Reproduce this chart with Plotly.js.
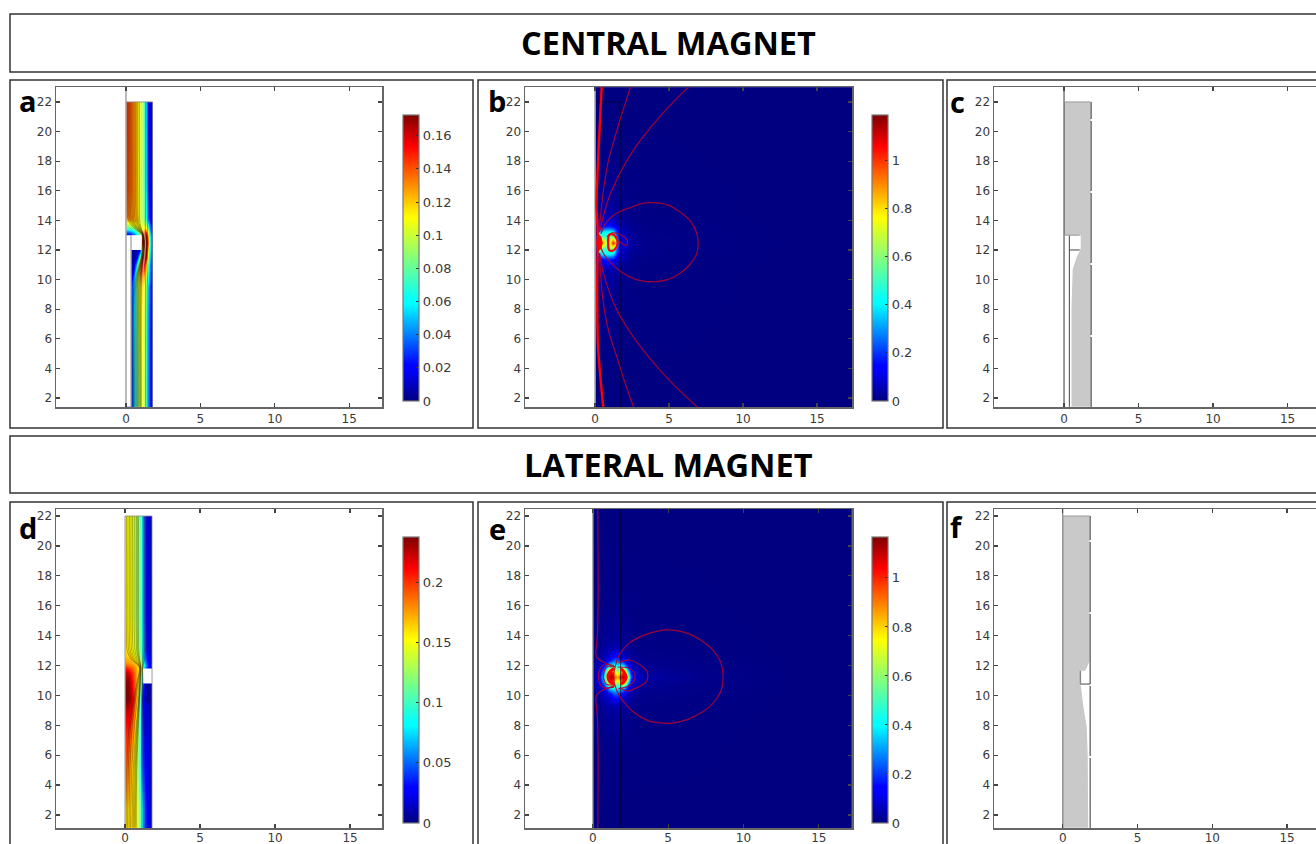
<!DOCTYPE html>
<html><head><meta charset="utf-8">
<script src="https://cdn.plot.ly/plotly-3.0.1.min.js"></script>
<style>html,body{margin:0;padding:0;background:#fff;overflow:hidden;width:1316px;height:844px}#chart{width:1340px;height:900px}</style>
</head><body><div id="chart"></div>
<script>
// ---------- data ----------
const titles = ['CENTRAL MAGNET','LATERAL MAGNET'];
const letters = ['a','b','c','d','e','f'];
const xTicks = [0,5,10,15];
const yTicks = [2,4,6,8,10,12,14,16,18,20,22];

// panel a : colour field
const aX = [0,.17,.34,.5,.7,.9,1.05,1.2,1.35,1.5,1.65,1.78];
const aY = [1.4,9,10,10.5,11,11.5,12,12.5,13,13.3,13.6,14,14.5,22];
const aZ = [
 [.01,.01,.02,.045,.08,.1,.106,.098,.075,.045,.02,.01],
 [.01,.01,.02,.05,.085,.105,.11,.1,.078,.048,.022,.01],
 [.005,.005,.012,.04,.09,.118,.125,.115,.09,.06,.028,.012],
 [.004,.004,.006,.022,.08,.13,.145,.135,.105,.07,.032,.014],
 [.004,.004,.004,.01,.05,.125,.16,.155,.12,.075,.035,.015],
 [.004,.004,.004,.004,.012,.07,.15,.172,.16,.1,.04,.015],
 [.004,.004,.004,.004,.006,.016,.1,.165,.172,.12,.045,.015],
 [.004,.004,.004,.004,.006,.016,.15,.172,.172,.14,.05,.018],
 [.015,.015,.018,.026,.045,.08,.13,.165,.17,.125,.045,.016],
 [.045,.045,.05,.06,.08,.1,.12,.135,.135,.095,.035,.014],
 [.09,.09,.095,.1,.11,.11,.105,.105,.1,.065,.028,.012],
 [.125,.125,.125,.125,.12,.105,.095,.088,.07,.04,.018,.01],
 [.14,.14,.135,.13,.118,.10,.09,.078,.055,.028,.014,.008],
 [.145,.142,.136,.13,.118,.105,.092,.075,.052,.022,.012,.008]];
// panel a : streamlines, x position of each line at the heights aLineY
const aLineY = [22,15,14.3,13.8,13.4,13.05,12.5,12,11.5,11,10.4,9.5,8.5,1.4];
const aLines = [
 [.08,.08,.1,.26,.62,1.06,1.1,1.08,1.02,.88,.7,.54,.47,.44],
 [.15,.15,.18,.35,.7,1.08,1.12,1.1,1.04,.92,.75,.6,.52,.5],
 [.22,.22,.25,.41,.75,1.09,1.14,1.12,1.06,.94,.79,.65,.6,.58],
 [.3,.3,.33,.48,.8,1.1,1.15,1.13,1.07,.95,.82,.7,.66,.65],
 [.39,.39,.42,.54,.84,1.11,1.17,1.15,1.09,.98,.85,.75,.72,.71],
 [.47,.47,.5,.6,.88,1.12,1.18,1.16,1.1,1.0,.88,.8,.78,.77],
 [.56,.56,.59,.68,.92,1.14,1.2,1.18,1.12,1.03,.92,.85,.83,.82],
 [.65,.65,.68,.75,.95,1.15,1.21,1.19,1.14,1.05,.96,.9,.88,.87],
 [.73,.73,.75,.82,.99,1.17,1.23,1.21,1.16,1.08,1.0,.95,.93,.93],
 [.8,.8,.82,.88,1.02,1.18,1.25,1.23,1.18,1.1,1.03,1,.98,.98],
 [.9,.9,.91,.95,1.06,1.2,1.27,1.25,1.2,1.13,1.07,1.05,1.04,1.04],
 [1,1,1,1.02,1.1,1.22,1.29,1.27,1.22,1.15,1.11,1.09,1.09,1.09],
 [1.1,1.1,1.09,1.1,1.15,1.25,1.31,1.29,1.25,1.18,1.16,1.15,1.15,1.15],
 [1.19,1.19,1.18,1.17,1.2,1.28,1.33,1.31,1.27,1.21,1.2,1.21,1.22,1.22],
 [1.32,1.32,1.31,1.3,1.31,1.34,1.38,1.36,1.33,1.29,1.3,1.32,1.32,1.32],
 [1.48,1.48,1.47,1.46,1.45,1.44,1.45,1.44,1.42,1.41,1.43,1.47,1.47,1.47]];
const aBlankX = [0,.34,.34,0,0];
const aBlankY = [1.4,1.4,13,13,1.4];
const aMagX = [.34,1.05,1.05,.34,.34];
const aMagY = [12,12,13,13,12];

// panel d : colour field
const dX = [0,.2,.4,.6,.8,1,1.15,1.3,1.5,1.8];
const dY = [1.15,6,8,10,11,11.7,12,12.5,13.5,22];
const dZ = [
 [.16,.16,.16,.155,.14,.11,.08,.045,.022,.008],
 [.19,.185,.165,.15,.125,.08,.05,.032,.018,.008],
 [.21,.21,.195,.17,.13,.08,.045,.025,.015,.008],
 [.238,.238,.225,.195,.15,.08,.04,.018,.01,.006],
 [.235,.235,.215,.19,.16,.12,.07,.02,.01,.006],
 [.22,.215,.2,.185,.165,.14,.12,.055,.025,.008],
 [.19,.185,.18,.175,.16,.145,.12,.075,.032,.01],
 [.165,.165,.16,.15,.135,.12,.09,.052,.024,.009],
 [.155,.15,.145,.135,.125,.105,.078,.042,.018,.008],
 [.155,.15,.145,.135,.125,.105,.078,.042,.018,.008]];
const dLineY = [22,14,13,12.4,11.9,11,10,8,5,1.15];
const dLines = [
 [.1,.1,.14,.42,.95,.82,.62,.28,.12,.08],
 [.2,.2,.25,.5,.97,.86,.68,.37,.22,.17],
 [.3,.3,.35,.58,.98,.9,.75,.48,.33,.27],
 [.4,.4,.45,.66,1.0,.94,.85,.63,.45,.36],
 [.5,.5,.55,.75,1.02,.98,.92,.75,.55,.47],
 [.62,.62,.67,.82,1.04,1.0,.94,.79,.62,.55],
 [.75,.75,.78,.9,1.06,1.02,.96,.82,.68,.62],
 [.82,.82,.85,.94,1.08,1.04,.98,.86,.73,.69],
 [.9,.9,.92,.98,1.09,1.05,1.0,.9,.78,.75],
 [1.0,1.0,1.0,1.05,1.11,1.08,1.04,.98,.92,.9],
 [1.1,1.1,1.1,1.1,1.13,1.11,1.08,1.05,1.02,1.0],
 [1.2,1.2,1.19,1.16,1.15,1.14,1.12,1.12,1.13,1.13],
 [1.32,1.32,1.3,1.22,1.17,1.17,1.16,1.2,1.24,1.25],
 [1.45,1.45,1.42,1.3,1.19,1.2,1.2,1.3,1.36,1.38]];
const dMagX = [1.2,1.8,1.8,1.2,1.2];
const dMagY = [10.8,10.8,11.8,11.8,10.8];
const dLoopX = [1.45,1.55,1.5,1.42,1.38,1.45];
const dLoopY = [10.7,10.1,9.5,9.6,10.2,10.7];

// panel b : colour field
const bX = [0,.1,.3,.5,.8,1,1.2,1.35,1.5,1.8,2.2,2.8,4,17.4];
const bY = [1.4,10,11,11.4,11.8,12,12.5,13,13.2,13.6,14,15,23];
const bZ = [
 [.003,.003,.003,.003,.003,.003,.003,.003,.002,.002,.002,.002,.002,.001],
 [.012,.012,.012,.012,.012,.012,.012,.01,.01,.008,.006,.005,.003,.001],
 [.04,.05,.06,.07,.07,.07,.06,.05,.04,.025,.015,.008,.004,.001],
 [.07,.09,.12,.16,.18,.18,.15,.11,.08,.05,.025,.012,.005,.001],
 [.1,.18,.35,.4,.42,.42,.4,.27,.16,.07,.03,.014,.006,.001],
 [.12,.28,.6,.5,.5,.55,.62,.38,.2,.09,.04,.016,.006,.001],
 [.2,.4,1.1,.85,.65,.72,1.05,.9,.27,.1,.05,.02,.007,.001],
 [.12,.28,.6,.5,.5,.55,.62,.38,.2,.09,.04,.016,.006,.001],
 [.1,.18,.35,.4,.42,.42,.4,.27,.16,.07,.03,.014,.006,.001],
 [.07,.09,.12,.16,.18,.18,.15,.11,.08,.05,.025,.012,.005,.001],
 [.04,.05,.06,.07,.07,.07,.06,.05,.04,.025,.015,.008,.004,.001],
 [.012,.012,.012,.012,.012,.012,.012,.01,.01,.008,.006,.005,.003,.001],
 [.003,.003,.003,.003,.003,.003,.003,.003,.002,.002,.002,.002,.002,.001]];
// panel b : red contour lines
const bLoopX = [.4,.7,1.2,1.8,2.5,3.2,3.9,4.9,5.7,6.4,6.85,6.97,6.85,6.4,5.7,4.9,3.9,2.8,1.8,1,.5,.35];
const bLoopY = [13.1,13.8,14.3,14.65,14.9,15.15,15.2,15.05,14.6,14,13.2,12.5,11.7,11,10.4,10,9.85,10,10.5,11.2,11.9,12.4];
const bLobeX = [.8,1.2,1.8,2.15,2.2,2.1,1.6];
const bLobeY = [12.9,13.15,13,12.7,12.45,12.3,12.6];
const bUp1X = [2.4,1.6,.9,.5,.3];
const bUp1Y = [23,20.5,18,15.5,13.5];
const bUp2X = [6.3,5.2,4.2,3.3,2.6,1.9,1.4,1,.7,.3];
const bUp2Y = [23,21.9,20.8,19.7,18.75,17.6,16.6,15.7,14.8,13.2];
const bDown1X = [.3,.42,.62,.95,1.4,2,2.6];
const bDown1Y = [11.8,9.8,8,6.4,5,3.1,1.4];
const bDown2X = [.3,.55,.95,1.5,2.2,3.2,4.2,5.4,6.9];
const bDown2Y = [11.8,10.5,9.2,7.9,6.7,5.3,4.1,2.8,1.4];
const bAxisLineX = [.45,.3,.18,.1,.15,.18,.15,.15,.2,.55];
const bAxisLineY = [23,20,17.5,15,14,13,10,8,5.5,1.4];
const bLensX = [.2,.4,.48,.4,.2,.12,.2];
const bLensY = [13.1,12.9,12.5,12.1,11.9,12.5,13.1];
const bRingX = [.95,1.2,1.45,1.52,1.45,1.2,.95,.95];
const bRingY = [13,13.05,12.8,12.5,12.2,11.95,12,13];
const bGeoX = [0,1.74,1.74];
const bGeoY = [22,22,1.4];

// panel e : colour field
const eX = [0,.4,.8,1.05,1.2,1.4,1.6,1.8,2,2.2,2.5,3,4,17.3];
const eY = [1.13,8,9.5,10.2,10.65,10.85,11.25,11.65,11.85,12.3,13,14.5,22.5];
const eZ = [
 [.003,.003,.003,.003,.003,.003,.003,.003,.002,.002,.002,.002,.002,.001],
 [.006,.007,.008,.01,.01,.01,.01,.008,.007,.006,.005,.004,.003,.001],
 [.012,.02,.03,.04,.045,.05,.045,.04,.03,.025,.018,.01,.005,.001],
 [.02,.04,.08,.13,.18,.24,.24,.18,.12,.08,.04,.02,.008,.001],
 [.03,.07,.18,.42,.52,.5,.45,.5,.45,.25,.08,.03,.01,.001],
 [.04,.09,.32,.9,1.05,.75,.6,.8,1,.65,.13,.04,.012,.001],
 [.05,.11,.42,1.1,1.15,.95,.85,1,1.15,1.1,.2,.06,.015,.001],
 [.04,.09,.32,.9,1.05,.75,.6,.8,1,.65,.13,.04,.012,.001],
 [.03,.07,.18,.42,.52,.5,.45,.5,.45,.25,.08,.03,.01,.001],
 [.02,.04,.08,.13,.18,.24,.24,.18,.12,.08,.04,.02,.008,.001],
 [.012,.02,.03,.04,.045,.05,.045,.04,.03,.025,.018,.01,.005,.001],
 [.006,.007,.008,.01,.01,.01,.01,.008,.007,.006,.005,.004,.003,.001],
 [.003,.003,.003,.003,.003,.003,.003,.003,.002,.002,.002,.002,.002,.001]];
const eLoopX = [1.38,1.7,2.3,3,3.9,4.67,5.3,6.3,7.3,8,8.5,8.65,8.5,8,7.3,6.3,5.3,4.67,3.7,2.8,2.1,1.6,1.38];
const eLoopY = [11.25,12.6,13.4,13.85,14.2,14.37,14.37,14.15,13.6,13,12.2,11.25,10.3,9.5,8.9,8.4,8.15,8.15,8.3,8.8,9.5,10.3,11.25];
const eLobe1X = [1.7,2.47,3.33,3.6,3.65,3.55,2.33,1.8];
const eLobe1Y = [12.2,12.37,11.9,11.6,11.25,10.9,10.3,10.5];
const eLobe2X = [1.65,2.3,2.7,2.8,2.7,2.3,1.7];
const eLobe2Y = [11.9,11.85,11.6,11.25,10.9,10.6,10.45];
const eLeft1X = [.33,.35,.3,.2,.3,.67,1.47];
const eLeft1Y = [22.5,16.4,14,12.8,12.5,12.25,11.9];
const eLeft2X = [.33,.35,.3,.2,.3,.67,1.47];
const eLeft2Y = [1.13,6,8.6,9.8,10.1,10.35,10.65];
const eLeft3X = [1.4,.75,.43,.37,.5,.8,1.4];
const eLeft3Y = [12,12.05,11.7,11.2,10.7,10.5,10.55];
const eLeft4X = [1.4,.9,.7,.9,1.4];
const eLeft4Y = [11.9,11.9,11.25,10.75,10.7];
const eRingLX = [1.4,1.15,1,1.15,1.4];
const eRingLY = [11.8,11.6,11.25,10.9,10.75];
const eRingRX = [1.85,2.05,2.2,2.05,1.85];
const eRingRY = [11.8,11.6,11.25,10.9,10.75];
const eGeoX = [1.85,1.85];
const eGeoY = [1.13,22.5];

// panel c, f : material outlines
const cFillX = [0,1.79,1.79,.5,.5,.58,.85,1.12,1.12,0,0];
const cFillY = [22,22,1.4,1.4,8,10.7,11.5,12.1,13,13,22];
const cWallX = [.36,.36];
const cWallY = [1.4,13];
const cTopX = [0,1.05];
const cTopY = [13,13];
const cMagX = [.36,1.05];
const cMagY = [12,12];
const fFillX = [0,1.8,1.8,1.58,1.5,1.18,1.18,1.2,1.38,1.6,1.67,1.7,0,0];
const fFillY = [22,22,12.3,11.85,11.65,11.65,10.8,10.7,9.24,7.9,5.9,1.15,1.15,22];
const fMagX = [1.18,1.83];
const fMagY = [10.76,10.76];

// ---------- styling ----------
const W = 1340, H = 900;
const fx = p => p / W, fy = p => 1 - p / H;
const jet = [[0,'#00007f'],[.11,'#0000ff'],[.125,'#0000ff'],[.34,'#00ffff'],[.35,'#00ffff'],[.64,'#ffff00'],[.66,'#ffee00'],[.89,'#ff0000'],[.91,'#e80000'],[1,'#7f0000']];
const edges = c => { const e=[c[0]]; for(let i=1;i<c.length;i++) e.push((c[i-1]+c[i])/2); e.push(c[c.length-1]); return e; };

const panels = [
 {xr:[-4.7,17.2], yr:[1.39,23.01], px:[56,382],  py:[87,407]},
 {xr:[-4.73,17.36],yr:[1.39,23.01], px:[525,852], py:[87,407]},
 {xr:[-4.7,17.18], yr:[1.39,23.01], px:[994,1320],py:[87,407]},
 {xr:[-4.6,17.13], yr:[1.13,22.47], px:[56,382],  py:[509,828]},
 {xr:[-4.5,17.2],  yr:[1.13,22.47], px:[525,852], py:[509,828]},
 {xr:[-4.6,17.2],  yr:[1.13,22.47], px:[994,1320],py:[509,828]}
];
const layout = {width:W,height:H,margin:{l:0,r:0,t:0,b:0},paper_bgcolor:'#fff',plot_bgcolor:'#fff',showlegend:false,shapes:[],annotations:[]};
panels.forEach((p,i)=>{
  const n = i+1, common = {showgrid:false,zeroline:false,ticks:'inside',ticklen:4,tickwidth:1.2,tickcolor:'#444',
    mirror:'ticks',showline:true,linecolor:'#666',linewidth:1.5,fixedrange:true,layer:'above traces',
    tickfont:{family:'DejaVu Sans',size:12,color:'#3a3a3a'}};
  layout['xaxis'+n] = Object.assign({},common,{domain:[fx(p.px[0]),fx(p.px[1])],range:p.xr,anchor:'y'+n,tickmode:'array',tickvals:xTicks,ticklabelstandoff:n>3?-2:0});
  layout['yaxis'+n] = Object.assign({},common,{domain:[fy(p.py[1]),fy(p.py[0])],range:p.yr,anchor:'x'+n,tickmode:'array',tickvals:yTicks});
});
const box = (x0,y0,x1,y1)=>({type:'rect',xref:'paper',yref:'paper',x0:fx(x0),x1:fx(x1),y0:fy(y0),y1:fy(y1),line:{color:'#333',width:1.5},fillcolor:'rgba(0,0,0,0)',layer:'below'});
layout.shapes.push(box(10,14,1335,72),box(10,80,473,428),box(478,80,943,428),box(947,80,1335,428),
  box(10,436,1335,493),box(10,502,473,895),box(478,502,943,895),box(947,502,1335,895));
const ann = (t,x,y,s)=>({text:t,xref:'paper',yref:'paper',x:fx(x),y:fy(y),xanchor:'center',yanchor:'middle',showarrow:false,font:{family:'Open Sans',size:s,color:'#000',weight:700}});
layout.annotations.push(ann(titles[0],668.5,42.5,32.5),ann(titles[1],668.5,464.5,32.5));
[[28,100],[497,100],[957,102],[28,527],[497,528],[956,526]].forEach((q,i)=>layout.annotations.push(ann(letters[i],q[0],q[1],29)));

const traces = [];
const heat = (n,x,y,z,zmax,dtick,bx,by)=>traces.push({type:'heatmap',xaxis:'x'+n,yaxis:'y'+n,x:edges(x),y:edges(y),z:z,zmin:0,zmax:zmax,zsmooth:'best',
  colorscale:jet,hoverinfo:'skip',colorbar:{x:fx(bx),xanchor:'left',xref:'paper',y:fy(by),yanchor:'top',yref:'paper',xpad:0,ypad:0,thickness:16,thicknessmode:'pixels',
  len:286,lenmode:'pixels',outlinecolor:'#777',outlinewidth:1.2,tick0:0,dtick:dtick,ticks:'inside',ticklen:3,tickcolor:'#333',tickfont:{family:'DejaVu Sans',size:13,color:'#3a3a3a'}}});
const line = (n,x,y,color,width,opts)=>traces.push(Object.assign({type:'scatter',mode:'lines',xaxis:'x'+n,yaxis:'y'+n,x:x,y:y,hoverinfo:'skip',line:{color:color,width:width}},opts||{}));
const fill = (n,x,y,color,lc,lw)=>traces.push({type:'scatter',mode:'lines',xaxis:'x'+n,yaxis:'y'+n,x:x,y:y,fill:'toself',fillcolor:color,hoverinfo:'skip',line:{color:lc||color,width:lw===undefined?0:lw}});
const spl = (n,x,y,color,width)=>traces.push({type:'scatter',mode:'lines',xaxis:'x'+n,yaxis:'y'+n,x:x,y:y,hoverinfo:'skip',line:{color:color,width:width,shape:'spline',smoothing:.8}});

const gray = '#aaaaaa', stream = 'rgba(40,20,0,.36)', lightStream='rgba(255,255,210,.35)', red='rgba(175,0,45,.9)';
// a
heat(1,aX,aY,aZ,.1725,.02,403,115);
fill(1,aBlankX,aBlankY,'#fff');
fill(1,aMagX,aMagY,'#fff');
aLines.forEach((l,i)=>spl(1,l,aLineY,(i>=11&&i<=13)?lightStream:stream,.9));
line(1,[0,0],[1.39,23.01],gray,1.6);
line(1,[.34,.34],[1.4,13],gray,1.4);
line(1,[0,1.78,1.78],[22,22,1.4],'#888',.8);
// b
heat(2,bX,bY,bZ,1.19,.2,872,115);
line(2,bGeoX,bGeoY,'rgba(0,0,40,.7)',1);
line(2,[0,0],[1.39,23.01],gray,1.6);
spl(2,bLoopX,bLoopY,red,1.2);
spl(2,bLobeX,bLobeY,red,1.2);
spl(2,bUp1X,bUp1Y,red,1.2);
spl(2,bUp2X,bUp2Y,red,1.2);
spl(2,bDown1X,bDown1Y,red,1.2);
spl(2,bDown2X,bDown2Y,red,1.2);
spl(2,bAxisLineX,bAxisLineY,'#f00',2.4);
fill(2,bLensX,bLensY,'#f00','#f00',1);
spl(2,bRingX,bRingY,'#f00',2.2);
// c
fill(3,cFillX,cFillY,'#c9c9c9');
line(3,[0,0],[1.39,23.01],'#555',1.2);
line(3,[1.82,1.82],[1.39,22],'#555',1.2,{line:{color:'#555',width:1.2,dash:'70px,2px'}});
line(3,cWallX,cWallY,'#555',1.1);
line(3,cTopX,cTopY,'#999',1);
line(3,cMagX,cMagY,'#555',1.1);
line(3,[0,1.79],[22,22],'#999',1);
// d
heat(4,dX,dY,dZ,.238,.05,403,537);
fill(4,dMagX,dMagY,'#fff');
dLines.forEach((l,i)=>spl(4,l,dLineY,(i==9||i==10)?lightStream:stream,.9));
spl(4,dLoopX,dLoopY,'rgba(0,0,60,.7)',1);
line(4,[0,0],[1.13,22],gray,1.2);
line(4,[0,1.8,1.8],[22,22,1.13],'#888',.8);
// e
heat(5,eX,eY,eZ,1.167,.2,872,537);
line(5,eGeoX,eGeoY,'rgba(0,0,40,.75)',1);
line(5,[0,0],[1.13,22.47],gray,1.4);
spl(5,eLoopX,eLoopY,red,1.2);
spl(5,eLobe1X,eLobe1Y,red,1.2);
spl(5,eLobe2X,eLobe2Y,red,1.2);
spl(5,eLeft1X,eLeft1Y,red,1.2);
spl(5,eLeft2X,eLeft2Y,red,1.2);
spl(5,eLeft3X,eLeft3Y,red,1.2);
spl(5,eLeft4X,eLeft4Y,red,1.2);
spl(5,eRingLX,eRingLY,'#f00',3);
spl(5,eRingRX,eRingRY,'#f00',3);
// f
fill(6,fFillX,fFillY,'#c9c9c9');
line(6,[1.83,1.83],[1.13,22],'#555',1.2,{line:{color:'#555',width:1.2,dash:'70px,2px'}});
line(6,[0,0],[1.13,22.47],'#777',1.1);
line(6,fMagX,fMagY,'#555',1.1);
line(6,[1.18,1.18],[10.76,11.65],'#888',1.4);
line(6,[0,1.8],[22,22],'#999',1);

Plotly.newPlot('chart',traces,layout,{displayModeBar:false,staticPlot:true});
</script></body></html>
